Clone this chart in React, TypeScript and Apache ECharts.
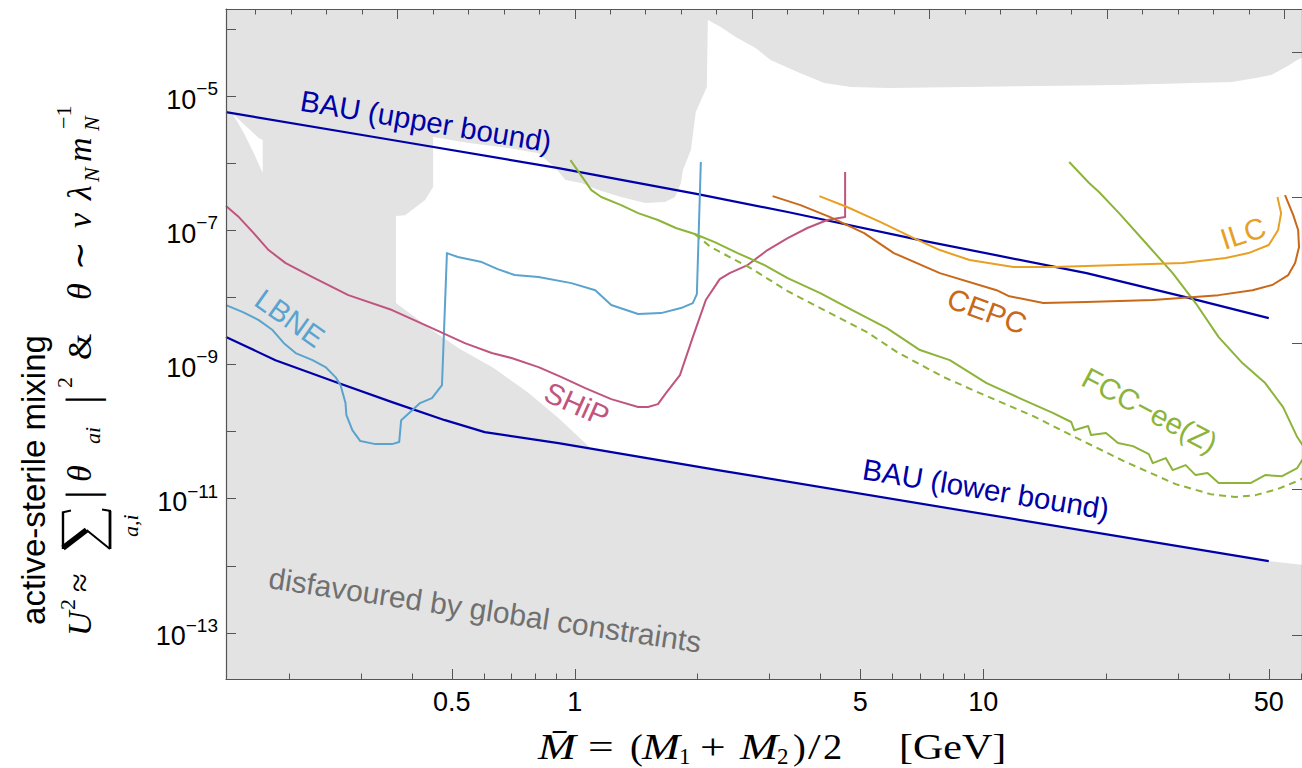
import React, { useEffect, useRef } from "react";
import * as echarts from "echarts";

// ---------- axis extents ----------
const massRange: [number, number] = [0.14, 60.3]; // GeV
const mixingRange: [number, number] = [2.06e-14, 1.98e-4]; // U^2

// ---------- ticks ----------
const massMajorTicks = [0.5, 1, 5, 10, 50];
const massMinorTicks = [0.2, 0.3, 0.4, 0.6, 0.7, 0.8, 0.9, 2, 3, 4, 6, 7, 8, 9, 20, 30, 40, 60];
const mixingTickExponents = [-13, -12, -11, -10, -9, -8, -7, -6, -5, -4];
const mixingLabelExponents = [-13, -11, -9, -7, -5];
const topMajorLn = [-1, 0, 1, 2, 3, 4];
const topMinorLn = [-1.8, -1.6, -1.4, -1.2, -0.8, -0.6, -0.4, -0.2, 0.2, 0.4, 0.6, 0.8, 1.2, 1.4, 1.6, 1.8, 2.2, 2.4, 2.6, 2.8, 3.2, 3.4, 3.6, 3.8];
const rightMajorLn = [-30, -25, -20, -15, -10];

type P = [number, number];

// ---------- curves: [mass GeV, U^2] ----------
const bauUpper: P[] = [[0.14, 5.77e-6], [0.357, 2.21e-6], [0.912, 8.45e-7], [2.0, 3.46e-7], [3.32, 1.87e-7], [7.0, 7.14e-8], [17.9, 2.3e-8], [31.3, 1.01e-8], [50, 4.91e-9]];
const bauLower: P[] = [[0.14, 2.56e-9], [0.185, 1.16e-9], [0.2595, 5.47e-10], [0.357, 2.75e-10], [0.481, 1.48e-10], [0.602, 9.83e-11], [0.912, 6.74e-11], [2.24, 2.67e-11], [50, 1.175e-12]];
const ship: P[] = [[0.14, 2.29e-7], [0.1505, 1.57e-7], [0.1628, 9.4e-8], [0.178, 5.07e-8], [0.196, 3.24e-8], [0.228, 2.01e-8], [0.279, 1.08e-8], [0.357, 6.47e-9], [0.447, 3.49e-9], [0.538, 2.08e-9], [0.626, 1.48e-9], [0.7, 1.25e-9], [0.815, 9.15e-10], [0.928, 6.49e-10], [1.061, 4.45e-10], [1.228, 3.05e-10], [1.429, 2.32e-10], [1.511, 2.32e-10], [1.598, 2.57e-10], [1.672, 3.75e-10], [1.809, 6.95e-10], [1.945, 2.56e-9], [2.093, 9.12e-9], [2.264, 1.87e-8], [2.394, 2.3e-8], [2.649, 3.03e-8], [2.964, 5.07e-8], [3.32, 7.65e-8], [3.71, 1.08e-7], [4.15, 1.42e-7], [4.59, 1.57e-7], [4.59, 7.37e-7]];
const lbne: P[] = [[0.14, 7.68e-9], [0.154, 6.04e-9], [0.1684, 4.59e-9], [0.182, 3.26e-9], [0.194, 2.08e-9], [0.2073, 1.48e-9], [0.228, 1.16e-9], [0.2453, 9.15e-10], [0.2595, 6.49e-10], [0.267, 4.93e-10], [0.2746, 2.66e-10], [0.276, 1.76e-10], [0.2854, 1.05e-10], [0.2985, 7.22e-11], [0.325, 6.51e-11], [0.357, 6.51e-11], [0.3716, 6.98e-11], [0.3758, 1.48e-10], [0.395, 1.95e-10], [0.418, 2.66e-10], [0.447, 3.16e-10], [0.473, 4.93e-10], [0.4864, 4.57e-8], [0.5174, 3.99e-8], [0.592, 3.36e-8], [0.6475, 2.64e-8], [0.7125, 2.15e-8], [0.815, 2.01e-8], [0.981, 1.63e-8], [1.1225, 1.28e-8], [1.228, 7.68e-9], [1.429, 5.64e-9], [1.626, 5.83e-9], [1.819, 6.93e-9], [1.945, 8.23e-9], [1.99, 1.12e-8], [2.035, 1.04e-6]];
const fccSolid: P[] = [[0.976, 1.11e-6], [1.098, 3.97e-7], [1.161, 3.13e-7], [1.299, 2.37e-7], [1.429, 1.8e-7], [1.598, 1.42e-7], [1.768, 1.08e-7], [1.967, 8.78e-8], [2.201, 6.67e-8], [2.504, 4.57e-8], [2.914, 3.03e-8], [3.32, 1.94e-8], [3.99, 1.16e-8], [4.83, 6.25e-9], [5.81, 3.49e-9], [7.0, 1.64e-9], [8.28, 1.16e-9], [10.19, 5.28e-10], [12.26, 3.16e-10], [14.84, 1.89e-10], [16.42, 1.39e-10], [16.7, 1.05e-10], [18.06, 1.21e-10], [18.36, 8.87e-11], [19.98, 9.5e-11], [21.37, 6.74e-11], [23.25, 6.08e-11], [25.43, 4.62e-11], [26.0, 3.39e-11], [27.97, 4.03e-11], [29.09, 2.67e-11], [31.3, 3.17e-11], [33.1, 2.25e-11], [35.4, 2.41e-11], [37.7, 1.71e-11], [45.1, 1.71e-11], [49.0, 2.25e-11], [53.9, 2.17e-11], [58.7, 2.86e-11], [62.1, 4.95e-11], [58.7, 8.29e-11], [54.2, 2.32e-10], [49.0, 5.28e-10], [43.1, 1.05e-9], [37.7, 2.56e-9], [33.1, 8.23e-9], [29.09, 2.3e-8], [25.0, 6.45e-8], [21.5, 1.8e-7], [19.2, 3.71e-7], [18.16, 5.05e-7], [16.23, 1.04e-6]];
const fccDashed: P[] = [[1.967, 8.78e-8], [2.152, 5.62e-8], [2.694, 2.73e-8], [3.32, 1.24e-8], [3.99, 6.93e-9], [5.19, 3.04e-9], [6.15, 1.53e-9], [8.0, 6.49e-10], [10.19, 3.38e-10], [13.26, 1.7e-10], [17.36, 7.47e-11], [22.35, 3.51e-11], [29.6, 1.65e-11], [36.0, 1.17e-11], [41.4, 1.06e-11], [46.4, 1.13e-11], [52.5, 1.39e-11], [58.7, 1.83e-11], [64.9, 2.49e-11]];
const cepc: P[] = [[3.05, 3.23e-7], [3.57, 2.37e-7], [4.22, 1.57e-7], [5.11, 9.08e-8], [6.04, 4.57e-8], [7.83, 2.3e-8], [10.78, 1.28e-8], [11.52, 1.05e-8], [14.03, 8.23e-9], [17.86, 8.51e-9], [26.0, 9.12e-9], [37.7, 1.08e-8], [45.6, 1.28e-8], [51.0, 1.53e-8], [55.8, 2.15e-8], [58.0, 3.24e-8], [59.3, 5.62e-8], [59.0, 1.01e-7], [57.4, 1.68e-7], [54.8, 3.35e-7]];
const ilc: P[] = [[3.97, 3.23e-7], [4.64, 2.22e-7], [5.59, 1.33e-7], [6.76, 7.65e-8], [7.83, 5.07e-8], [9.26, 3.6e-8], [11.85, 2.83e-8], [14.84, 2.83e-8], [21.5, 3.03e-8], [30.8, 3.24e-8], [39.2, 3.85e-8], [44.6, 4.57e-8], [50.0, 6.02e-8], [52.7, 1.01e-7], [53.6, 1.8e-7], [52.5, 3.13e-7]];

// ---------- allowed (white) region inside the disfavoured grey ----------
const allowedRegion: P[] = [[0.45, 2.45e-6], [0.55, 1.99e-6], [0.689, 1.68e-6], [0.815, 1.41e-6], [0.897, 8.45e-7], [0.949, 5.6e-7], [1.038, 5.05e-7], [1.142, 3.97e-7], [1.299, 3.13e-7], [1.486, 2.54e-7], [1.663, 2.63e-7], [1.759, 3.13e-7], [1.819, 5.05e-7], [1.84, 7.89e-7], [1.924, 1.57e-6], [1.978, 5.77e-6], [2.105, 1.36e-5], [2.117, 1.36e-4], [2.277, 1.07e-4], [2.476, 7.57e-5], [2.771, 5.19e-5], [3.015, 3.44e-5], [3.51, 2.28e-5], [4.08, 1.56e-5], [4.75, 1.36e-5], [5.88, 1.32e-5], [9.05, 1.36e-5], [13.87, 1.41e-5], [21.4, 1.46e-5], [32.9, 1.56e-5], [40.7, 1.62e-5], [46.4, 1.85e-5], [50.7, 2.06e-5], [55.1, 2.7e-5], [58.7, 3.44e-5], [64.9, 4.53e-5], [64.9, 9.9e-13], [50, 1.175e-12], [2.24, 2.67e-11], [1.092, 5.68e-11], [0.912, 1.59e-10], [0.771, 3.75e-10], [0.633, 8.84e-10], [0.52, 1.75e-9], [0.447, 3.26e-9], [0.365, 8.23e-9], [0.365, 1.63e-7], [0.3843, 1.68e-7], [0.43, 2.82e-7], [0.45, 4.4e-7]];
const allowedSliver: P[] = [[0.1447, 5.58e-6], [0.1684, 2.37e-6], [0.1722, 2.21e-6], [0.1722, 7.12e-7], [0.1675, 1.04e-6], [0.161, 1.74e-6], [0.1548, 2.81e-6], [0.1489, 4.24e-6]];

const COLORS = {
  bau: "#0000a8",
  lbne: "#5aa3cf",
  ship: "#bf557f",
  fcc: "#8db43a",
  cepc: "#c8691a",
  ilc: "#e8a023",
  grey: "#e3e3e3",
  frame: "#555555",
};

const L = Math.log10;
const toLog = (pts: P[]) => pts.map(([m, u]) => [L(m), L(u)]);
const sans = "'Liberation Sans', Arial, Helvetica, sans-serif";
const serif = "'Liberation Serif', 'Times New Roman', serif";

function lineSeries(name: string, pts: P[], color: string, width = 2, dashed = false) {
  return {
    type: "line",
    name,
    data: toLog(pts),
    showSymbol: false,
    symbol: "none",
    clip: true,
    silent: true,
    z: 3,
    lineStyle: { color, width, type: dashed ? [7, 5] : "solid", cap: "butt", join: "round" },
  };
}

function regionSeries(pts: P[], fill: string) {
  return {
    type: "custom",
    coordinateSystem: "cartesian2d",
    clip: true,
    silent: true,
    z: 1,
    data: [[0, 0]],
    renderItem: (_p: any, api: any) => ({
      type: "polygon",
      shape: { points: pts.map(([m, u]) => api.coord([L(m), L(u)])) },
      style: { fill, stroke: null },
    }),
  };
}

function label(text: string, x: number, y: number, deg: number, color: string, size = 29.5) {
  return {
    type: "text",
    x,
    y,
    rotation: (deg * Math.PI) / 180,
    z: 20,
    silent: true,
    style: { text, fill: color, fontSize: size, fontFamily: sans, align: "center", verticalAlign: "middle" },
  };
}

function mtext(text: string, lx: number, ly: number, size: number, italic = true, scaleX = 1) {
  return {
    type: "text",
    x: lx,
    y: ly,
    scaleX,
    z: 20,
    silent: true,
    style: { text, fontSize: size, fontStyle: italic ? "italic" : "normal", fontFamily: serif, fill: "#000", align: "left", verticalAlign: "middle" },
  };
}

function stroke(x1: number, y1: number, x2: number, y2: number, w: number) {
  return { type: "line", z: 20, silent: true, shape: { x1, y1, x2, y2 }, style: { stroke: "#000", lineWidth: w, lineCap: "butt" } };
}

function buildOption() {
  const xMin = L(massRange[0]);
  const xMax = L(massRange[1]);
  const yMin = L(mixingRange[0]);
  const yMax = L(mixingRange[1]);
  const frameLine = { show: true, onZero: false, lineStyle: { color: COLORS.frame, width: 1.2 } };
  const noLine = { show: false, onZero: false };
  const tick = (vals: number[], len: number) => ({ show: true, inside: true, length: len, customValues: vals, lineStyle: { color: COLORS.frame, width: 1 } });
  const baseX = { type: "value", min: xMin, max: xMax, splitLine: { show: false }, z: 10, offset: 0 };
  const baseY = { type: "value", min: yMin, max: yMax, splitLine: { show: false }, z: 10, offset: 0 };

  // big summation sign (local coords of the rotated y-title group)
  const sx0 = 91, sx1 = 128, sxm = 110, sTop = -16, sBot = 31, sMid = 7.5;
  const sigma = [
    stroke(sx0, sTop, sx1, sTop, 2.4),
    stroke(sx1 - 0.5, sTop - 1, sx1 + 1.5, sTop + 8, 1.8),
    stroke(sx0 + 1, sTop, sxm, sMid, 5.5),
    stroke(sxm, sMid, sx0, sBot, 2),
    stroke(sx0, sBot, sx1 + 1, sBot, 2.8),
    stroke(sx1 + 1, sBot + 1, sx1 + 2.5, sBot - 8, 1.8),
  ];

  return {
    animation: false,
    backgroundColor: "#ffffff",
    grid: { left: 226, top: 9, width: 1081, height: 670, show: true, backgroundColor: COLORS.grey, borderWidth: 0 },
    xAxis: [
      {
        ...baseX,
        position: "bottom",
        axisLine: frameLine,
        axisTick: tick(massMajorTicks.map(L), 10),
        axisLabel: {
          customValues: massMajorTicks.map(L),
          formatter: (v: number) => String(Number(Math.pow(10, v).toPrecision(3))),
          margin: 9,
          fontSize: 27,
          color: "#000",
          fontFamily: sans,
        },
      },
      { ...baseX, position: "bottom", axisLine: noLine, axisTick: tick(massMinorTicks.map(L), 5.5), axisLabel: { show: false } },
      { ...baseX, position: "top", axisLine: frameLine, axisTick: tick(topMajorLn.map((v) => v * Math.LOG10E), 10), axisLabel: { show: false } },
      { ...baseX, position: "top", axisLine: noLine, axisTick: tick(topMinorLn.map((v) => v * Math.LOG10E), 5.5), axisLabel: { show: false } },
    ],
    yAxis: [
      {
        ...baseY,
        position: "left",
        axisLine: frameLine,
        axisTick: tick(mixingTickExponents, 10),
        axisLabel: {
          customValues: mixingLabelExponents,
          margin: 8,
          formatter: (v: number) => `{b|10}{s|\u2212${-Math.round(v)}}`,
          rich: {
            b: { fontSize: 27, fontFamily: sans, color: "#000", lineHeight: 34, verticalAlign: "bottom" },
            s: { fontSize: 19, fontFamily: sans, color: "#000", lineHeight: 20, verticalAlign: "top" },
          },
        },
      },
      { ...baseY, position: "right", axisLine: frameLine, axisTick: tick(rightMajorLn.map((v) => v * Math.LOG10E), 10), axisLabel: { show: false } },
    ],
    series: [
      regionSeries(allowedRegion, "#ffffff"),
      regionSeries(allowedSliver, "#ffffff"),
      lineSeries("BAU upper", bauUpper, COLORS.bau, 2.2),
      lineSeries("BAU lower", bauLower, COLORS.bau, 2.2),
      lineSeries("LBNE", lbne, COLORS.lbne, 2),
      lineSeries("SHiP", ship, COLORS.ship, 2),
      lineSeries("FCC-ee dashed", fccDashed, COLORS.fcc, 2, true),
      lineSeries("FCC-ee", fccSolid, COLORS.fcc, 2),
      lineSeries("CEPC", cepc, COLORS.cepc, 2),
      lineSeries("ILC", ilc, COLORS.ilc, 2),
    ],
    graphic: [
      label("BAU (upper bound)", 426, 121, -9.5, COLORS.bau),
      label("BAU (lower bound)", 986, 489, -9.4, COLORS.bau),
      label("LBNE", 290, 318, -35.5, COLORS.lbne),
      label("SHiP", 577, 404, -24, COLORS.ship),
      label("CEPC", 987, 311, -20, COLORS.cepc),
      label("ILC", 1243, 233, 18, COLORS.ilc),
      label("FCC\u2212ee(Z)", 1150, 410, -28, COLORS.fcc),
      label("disfavoured by global constraints", 485, 610, -8.5, "#707070", 30),
      // x-axis title
      {
        type: "group",
        x: 0,
        y: 747,
        children: [
          mtext("M\u0304", 538, 0, 35, true, 1.3),
          mtext("=", 588, 0, 35, false, 1.3),
          mtext("(", 630, 0, 35, false, 1.1),
          mtext("M", 642, 0, 35, true, 1.3),
          mtext("1", 679, 9, 23, false),
          mtext("+", 700, 0, 35, false, 1.3),
          mtext("M", 740, 0, 35, true, 1.3),
          mtext("2", 777, 9, 23, false),
          mtext(")", 793, 0, 35, false, 1.1),
          mtext("/", 808, 0, 35, false, 1.3),
          mtext("2", 823, 0, 35, false, 1.1),
          mtext("[GeV]", 899, 0, 35, false, 1.2),
        ],
      },
      {
        type: "text",
        x: 33,
        y: 480,
        rotation: Math.PI / 2,
        z: 20,
        style: { text: "active-sterile mixing", fontSize: 33, fontFamily: sans, fill: "#000", align: "center", verticalAlign: "middle" },
      },
      {
        type: "group",
        x: 79,
        y: 640,
        rotation: Math.PI / 2,
        children: [
          mtext("U", 4, 0, 34),
          mtext("2", 30, -12, 22, false),
          mtext("\u2248", 48, 0, 34, false),
          ...sigma,
          mtext("a,i", 103, 51, 22),
          mtext("|", 141, 3, 44, false),
          mtext("\u03B8", 158, 0, 34),
          mtext("ai", 196, 13, 22),
          mtext("|", 236, 3, 44, false),
          mtext("2", 252, -15, 22, false),
          mtext("&", 280, 0, 34, false),
          mtext("\u03B8", 340, 0, 34),
          mtext("\u223C", 370, 0, 34, false),
          mtext("v", 412, 0, 34),
          mtext("\u03BB", 440, 0, 34),
          mtext("N", 458, 12, 22),
          mtext("m", 478, 0, 34),
          mtext("N", 509, 12, 22),
          mtext("\u22121", 511, -16, 22, false),
        ],
      },
    ],
  };
}

export default function App() {
  const ref = useRef<HTMLDivElement>(null);
  useEffect(() => {
    const el = ref.current;
    if (!el) return;
    const chart = echarts.init(el, undefined, { renderer: "svg" });
    chart.setOption(buildOption() as any);
    return () => chart.dispose();
  }, []);
  return <div ref={ref} style={{ position: "fixed", left: 0, top: 0, width: 1302, height: 768, background: "#fff" }} />;
}
